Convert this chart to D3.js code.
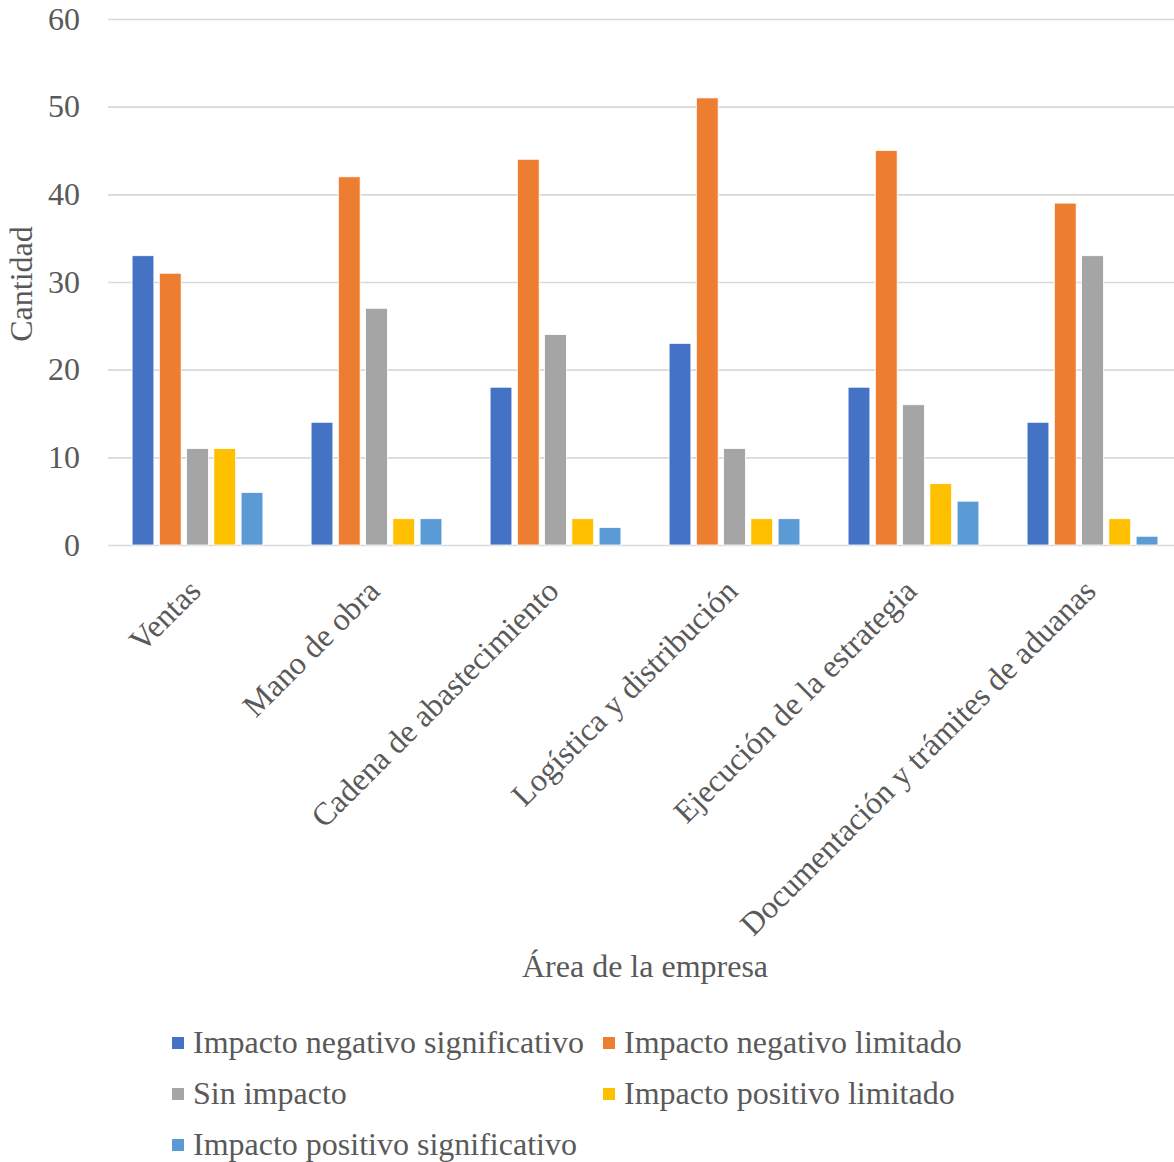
<!DOCTYPE html>
<html>
<head>
<meta charset="utf-8">
<script src="https://cdn.jsdelivr.net/npm/d3@7"></script>
<style>
  html, body { margin: 0; padding: 0; background: #fff; }
  svg text { font-family: "Liberation Serif", "Times New Roman", serif; fill: #595959; }
</style>
</head>
<body>
<svg id="chart" width="1174" height="1162"></svg>
<script>
// Areas of the company and impact levels
const categories = ["Ventas", "Mano de obra", "Cadena de abastecimiento", "Logística y distribución", "Ejecución de la estrategia", "Documentación y trámites de aduanas"];
const seriesNames = ["Impacto negativo significativo", "Impacto negativo limitado", "Sin impacto", "Impacto positivo limitado", "Impacto positivo significativo"];
const negSignificativo = [33, 14, 18, 23, 18, 14];
const negLimitado      = [31, 42, 44, 51, 45, 39];
const sinImpacto       = [11, 27, 24, 11, 16, 33];
const posLimitado      = [11, 3, 3, 3, 7, 3];
const posSignificativo = [6, 3, 2, 3, 5, 1];
const yTicks = [0, 10, 20, 30, 40, 50, 60];
const colors = ["#4472C4", "#ED7D31", "#A5A5A5", "#FFC000", "#5B9BD5"];

const seriesValues = [negSignificativo, negLimitado, sinImpacto, posLimitado, posSignificativo];
const rows = categories.map((c, i) => ({
  category: c,
  values: seriesNames.map((s, j) => ({ series: s, value: seriesValues[j][i] }))
}));

const svg = d3.select("#chart");
// The plot area runs slightly past the right edge of the canvas
const plotLeft = 108, plotRight = 1182, plotTop = 19, plotBottom = 545;
const fontSize = 32;

const x0 = d3.scaleBand().domain(categories).range([plotLeft, plotRight]).padding(0);
const x1 = d3.scaleBand().domain(seriesNames).range([0, x0.bandwidth()])
  .paddingInner(0.2).paddingOuter(0.884);
const y = d3.scaleLinear().domain([0, 60]).range([plotBottom, plotTop]);
const color = d3.scaleOrdinal().domain(seriesNames).range(colors);

// Gridlines and y tick labels
const yAxis = d3.axisLeft(y).tickValues(yTicks).tickSize(-(plotRight - plotLeft)).tickPadding(28);
const gy = svg.append("g").attr("transform", `translate(${plotLeft},0)`).call(yAxis);
gy.select(".domain").remove();
gy.selectAll(".tick line").attr("stroke", "#d9d9d9").attr("stroke-width", 1.6);
gy.selectAll(".tick text").attr("font-size", fontSize).attr("fill", "#595959")
  .style("font-family", "'Liberation Serif', serif");

// Bars
const groups = svg.append("g").selectAll("g").data(rows).join("g")
  .attr("transform", d => `translate(${x0(d.category)},0)`);
groups.selectAll("rect").data(d => d.values).join("rect")
  .attr("x", d => x1(d.series))
  .attr("y", d => y(d.value))
  .attr("width", x1.bandwidth())
  .attr("height", d => y(0) - y(d.value))
  .attr("fill", d => color(d.series))
  .attr("stroke", "#fff").attr("stroke-width", 0.8);

// Rotated category labels along the x axis
const xAxis = d3.axisBottom(x0).tickSize(0).tickPadding(0);
const gx = svg.append("g").attr("transform", `translate(0,${plotBottom})`).call(xAxis);
gx.select(".domain").remove();
gx.selectAll(".tick text")
  .attr("font-size", fontSize).attr("fill", "#595959")
  .style("font-family", "'Liberation Serif', serif")
  .attr("text-anchor", "end")
  .attr("dy", 0)
  .attr("transform", "translate(5,48) rotate(-45)");

// Axis titles
svg.append("text").attr("x", (plotLeft + plotRight) / 2).attr("y", 977)
  .attr("text-anchor", "middle").attr("font-size", fontSize).text("Área de la empresa");
svg.append("text").attr("transform", "translate(32,284) rotate(-90)")
  .attr("text-anchor", "middle").attr("font-size", fontSize).text("Cantidad");

// Legend
const legendPos = [[172, 1043], [603, 1043], [172, 1094], [603, 1094], [172, 1145]];
const legend = svg.append("g").selectAll("g").data(seriesNames).join("g")
  .attr("transform", (d, i) => `translate(${legendPos[i][0]},${legendPos[i][1]})`);
legend.append("rect").attr("x", 0).attr("y", -6).attr("width", 12).attr("height", 12)
  .attr("fill", d => color(d));
legend.append("text").attr("x", 21).attr("y", 10).attr("font-size", fontSize).text(d => d);
</script>
</body>
</html>
